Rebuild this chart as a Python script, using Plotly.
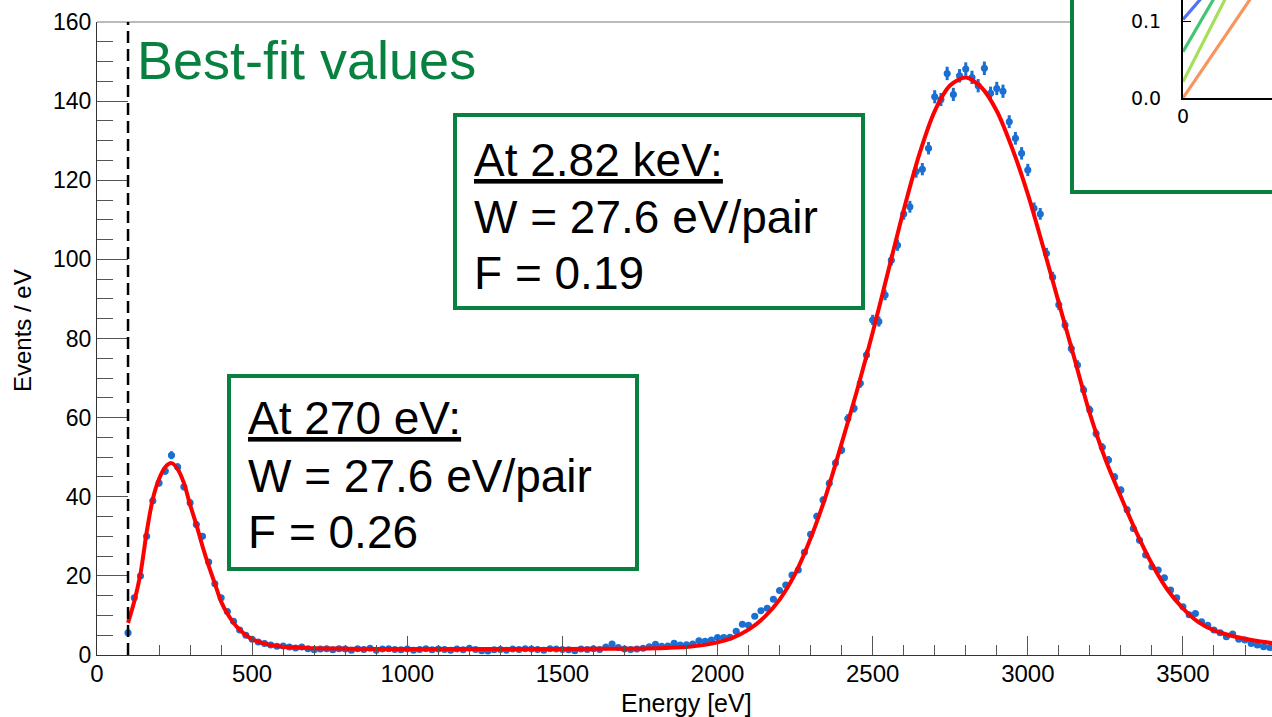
import numpy as np
import plotly.graph_objects as go

# ---------------- data ----------------
BIN_START = 100      # eV, first bin centre
BIN_WIDTH = 20       # eV
THRESHOLD = 100      # eV, analysis threshold (dashed line)

events_per_ev = [
    5.6, 14.5, 20.0, 30.0, 39.0, 43.5, 46.5, 50.5, 47.5, 42.5,          # 100-280
    38.5, 33.0, 30.0, 23.5, 18.0, 14.5, 11.0, 8.5, 6.3, 5.0,            # 300-480
    4.0, 3.3, 2.9, 2.5, 2.2, 2.3, 2.0, 1.8, 2.0, 1.6,                   # 500-680
    1.3, 1.5, 1.6, 1.3, 1.6, 1.5, 1.2, 1.6, 1.4, 1.7,                   # 700-880
    1.2, 1.5, 1.6, 1.4, 1.3, 1.5, 1.2, 1.4, 1.6, 1.3,                   # 900-1080
    1.5, 1.4, 1.2, 1.5, 1.3, 1.7, 1.4, 1.1, 1.0, 1.3,                   # 1100-1280
    1.4, 1.2, 1.5, 1.4, 1.6, 1.5, 1.4, 1.2, 1.6, 1.5,                   # 1300-1480
    1.4, 1.3, 1.1, 1.5, 1.4, 1.6, 1.4, 2.0, 2.8, 1.9,                   # 1500-1680
    1.5, 1.4, 1.5, 1.7, 2.1, 2.7, 2.2, 2.3, 3.0, 2.5,                   # 1700-1880
    2.6, 2.8, 3.6, 3.5, 3.8, 4.4, 4.4, 4.5, 6.0, 7.8,                   # 1900-2080
    7.5, 9.8, 11.2, 11.8, 14.1, 16.3, 17.7, 20.2, 21.5, 26.0,           # 2100-2280
    30.5, 35.1, 39.2, 43.4, 48.5, 51.8, 59.8, 62.4, 68.7, 75.8,         # 2300-2480
    84.7, 84.3, 91.0, 99.8, 103.6, 111.5, 113.3, 122.2, 122.8, 128.1,   # 2500-2680
    141.1, 140.4, 147.0, 141.7, 146.4, 148.1, 146.0, 143.9, 148.3, 142.0,  # 2700-2880
    143.2, 142.5, 134.8, 130.6, 126.8, 122.6, 112.9, 111.5, 101.5, 95.5,   # 2900-3080
    88.5, 83.4, 77.5, 73.3, 67.0, 61.9, 56.0, 52.5, 49.3, 45.0,         # 3100-3280
    41.7, 36.7, 32.0, 29.0, 25.3, 22.3, 21.5, 19.5, 16.4, 14.5,         # 3300-3480
    12.2, 10.2, 10.5, 8.4, 7.5, 6.3, 5.6, 4.6, 5.3, 4.0,                # 3500-3680
    3.8, 2.9, 2.5, 2.1, 1.9,                                            # 3700-3780
]

fit_energy = [100, 120, 140, 160, 180, 200, 220, 240, 260, 280, 300, 320, 340, 360,
              380, 400, 420, 450, 500, 550, 600, 650, 700, 800, 1000, 1200, 1400,
              1600, 1800, 1900, 2000, 2050, 2100, 2150, 2200, 2250, 2300, 2350,
              2400, 2450, 2500, 2550, 2600, 2650, 2700, 2750, 2800, 2850, 2900,
              2950, 3000, 3050, 3100, 3150, 3200, 3250, 3300, 3350, 3400, 3450,
              3500, 3550, 3600, 3650, 3700, 3750, 3800]
fit_value = [8.1, 13.5, 20.5, 31.0, 39.5, 44.5, 47.5, 48.5, 47.0, 43.5, 38.0, 33.0,
             27.5, 22.5, 18.0, 13.5, 10.5, 7.2, 4.0, 2.7, 2.1, 1.9, 1.7, 1.6, 1.5,
             1.5, 1.5, 1.55, 1.7, 2.0, 3.2, 4.4, 6.4, 9.5, 14.0, 20.5, 29.5, 40.5,
             53.5, 67.0, 81.5, 97.0, 112.5, 126.5, 137.5, 144.0, 146.0, 143.5,
             137.5, 128.0, 116.5, 103.0, 89.0, 75.0, 61.0, 49.5, 40.0, 31.0, 23.0,
             16.5, 11.8, 8.3, 6.2, 5.0, 4.1, 3.4, 2.9]

# inset (partially visible) lines: start / end points
inset_x = [0.0, 1.0]
inset_blue = [0.102, 0.236]
inset_green = [0.060, 0.259]
inset_lgreen = [0.021, 0.248]
inset_orange = [0.0, 0.170]

y_ticks = [0, 20, 40, 60, 80, 100, 120, 140, 160]
x_ticks = [0, 500, 1000, 1500, 2000, 2500, 3000, 3500]

energy = BIN_START + BIN_WIDTH * np.arange(len(events_per_ev))
vals = np.array(events_per_ev)
yerr = 0.14 * np.sqrt(vals)

# ---------------- layout helpers (pixel -> paper) ----------------
W, H = 1272, 717
L, B = 97, 62
PW, PH = W - L, H - B


def PX(px):
    return (px - L) / PW


def PY(py):
    return (H - B - py) / PH


GREEN = "#08803f"
BLUE = "#1a6fd3"
FONT = "Liberation Sans, Arial, Helvetica, sans-serif"

fig = go.Figure()

fig.add_trace(go.Scatter(
    x=energy, y=vals, mode="markers",
    marker=dict(color=BLUE, size=7),
    error_y=dict(type="data", array=yerr, color=BLUE, thickness=3, width=0),
    error_x=dict(type="constant", value=BIN_WIDTH / 2, color=BLUE, thickness=3, width=0),
    showlegend=False, xaxis="x", yaxis="y",
))
fig.add_trace(go.Scatter(
    x=fit_energy, y=fit_value, mode="lines",
    line=dict(color="#ff0000", width=4, shape="spline", smoothing=0.8),
    showlegend=False, xaxis="x", yaxis="y",
))

# inset traces
for yy, col in [(inset_orange, "#f7955c"), (inset_lgreen, "#a4e05a"),
                (inset_green, "#45c474"), (inset_blue, "#5272f2")]:
    fig.add_trace(go.Scatter(x=inset_x, y=yy, mode="lines",
                             line=dict(color=col, width=3.2),
                             showlegend=False, xaxis="x2", yaxis="y2"))

main_top = PY(22)

fig.update_layout(
    width=W, height=H,
    margin=dict(l=L, r=0, t=0, b=B, autoexpand=False),
    paper_bgcolor="white", plot_bgcolor="rgba(0,0,0,0)",
    font=dict(family=FONT, color="black"),
    xaxis=dict(
        domain=[0, 1], range=[0, 3787], tickvals=x_ticks, automargin=False,
        ticks="inside", ticklen=19, tickcolor="#555", tickwidth=1,
        minor=dict(ticks="inside", ticklen=10, dtick=100, tickcolor="#555", tickwidth=1),
        showline=True, linecolor="#333", linewidth=1,
        showgrid=False, zeroline=False, ticklabelstandoff=-3,
        tickfont=dict(size=24, family=FONT), anchor="y",
    ),
    yaxis=dict(
        domain=[0, main_top], range=[0, 160], tickvals=y_ticks, automargin=False,
        ticks="inside", ticklen=31, tickcolor="#555", tickwidth=1,
        minor=dict(ticks="inside", ticklen=16, dtick=5, tickcolor="#555", tickwidth=1),
        showline=True, linecolor="#333", linewidth=1,
        showgrid=False, zeroline=False,
        tickfont=dict(size=23, family=FONT), anchor="x",
    ),
    xaxis2=dict(
        domain=[PX(1183), 1], range=[0, 1], tickvals=[0], ticktext=["0"],
        automargin=False,
        ticks="", showline=True, linecolor="black", linewidth=2,
        showgrid=False, zeroline=False, anchor="y2",
        tickfont=dict(size=19, family="DejaVu Sans"),
    ),
    yaxis2=dict(
        domain=[PY(98), 1], range=[0, 98 / 770], tickvals=[0, 0.1], ticktext=["0.0", "0.1"],
        automargin=False,
        ticks="inside", ticklen=8, tickcolor="black", showline=True, linecolor="black",
        linewidth=2, showgrid=False, zeroline=False, anchor="x2",
        tickfont=dict(size=19, family="DejaVu Sans"), ticklabelstandoff=16,
    ),
)

shapes = []
# top frame line of main plot (up to the inset box)
shapes.append(dict(type="line", xref="paper", yref="paper", x0=0, x1=PX(1072),
                   y0=main_top, y1=main_top, line=dict(color="#777", width=1)))
# threshold dashed line
shapes.append(dict(type="line", xref="x", yref="y", x0=THRESHOLD, x1=THRESHOLD,
                   y0=0, y1=160, line=dict(color="black", width=2.5, dash="12px,6px")))
# boxes
shapes.append(dict(type="rect", xref="paper", yref="paper", x0=PX(455), x1=PX(863),
                   y0=PY(115), y1=PY(308), line=dict(color=GREEN, width=4)))
shapes.append(dict(type="rect", xref="paper", yref="paper", x0=PX(229), x1=PX(637),
                   y0=PY(376), y1=PY(569), line=dict(color=GREEN, width=4)))
shapes.append(dict(type="rect", xref="paper", yref="paper", x0=PX(1072), x1=PX(1300),
                   y0=PY(192), y1=PY(-20), line=dict(color=GREEN, width=4)))
fig.update_layout(shapes=shapes)

ann = []


def text(px, py, s, size, color="black", angle=0, xanchor="left"):
    ann.append(dict(xref="paper", yref="paper", x=PX(px), y=PY(py), text=s,
                    showarrow=False, xanchor=xanchor, yanchor="middle",
                    textangle=angle, font=dict(size=size, color=color, family=FONT)))


text(135, 60, "Best-fit values", 54, GREEN)
text(472, 160, "<u>At 2.82 keV:</u>", 46)
text(472, 217, "W = 27.6 eV/pair", 46)
text(472, 273, "F = 0.19", 46)
text(246, 418, "<u>At 270 eV:</u>", 46)
text(246, 476, "W = 27.6 eV/pair", 46)
text(246, 532, "F = 0.26", 46)
text(22, 331, "Events / eV", 24, angle=-90, xanchor="center")
text(686, 703, "Energy [eV]", 25, xanchor="center")
fig.update_layout(annotations=ann)

fig.write_html("out.html")
